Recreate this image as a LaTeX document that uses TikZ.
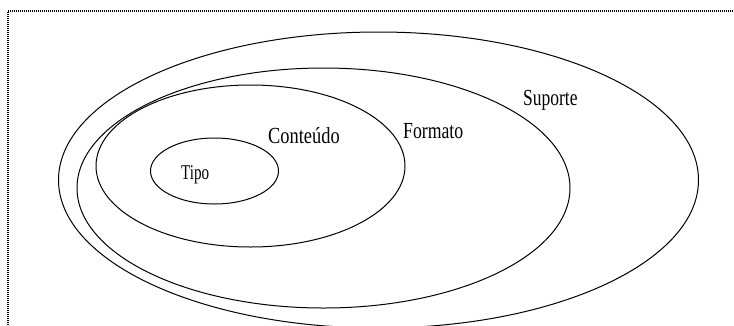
\documentclass[tikz,border=0pt]{standalone}
\usepackage{fontspec}
\setmainfont{Liberation Serif}
\tikzset{
  set/.style={draw=black, line width=1pt},
  lbl/.style={anchor=base west, inner sep=0pt, font=\fontsize{23}{27}\selectfont},
  frame/.style={draw=black, line width=1.2pt, dash pattern=on 1pt off 1pt}
}
\newcommand{\narrow}[2][0.78]{\scalebox{#1}[1]{#2}}
\begin{document}
\begin{tikzpicture}[x=1pt,y=-1pt]
\useasboundingbox (0,0) rectangle (734,325);
\clip (0,0) rectangle (734,325);
\coordinate (fa) at (8,11);
\coordinate (fb) at (734,11);
\coordinate (fc) at (8,325);
\draw[frame] (fc) -- (fa) -- (fb);
% sets
\draw[set] (378.5,180) ellipse [x radius=320pt, y radius=148pt];
\draw[set] (323.5,188) ellipse [x radius=246.5pt, y radius=120pt];
\draw[set] (250.5,166) ellipse [x radius=154.5pt, y radius=81pt];
\draw[set] (214.5,171) ellipse [x radius=64pt, y radius=33pt];
% labels
\node[lbl, font=\fontsize{21}{25}\selectfont] (tipo) at (181,179) {\narrow[0.72]{Tipo}};
\node[lbl] (conteudo) at (268,143) {\narrow[0.8]{Conteúdo}};
\node[lbl] (formato) at (403,138) {\narrow[0.77]{Formato}};
\node[lbl] (suporte) at (523,105) {\narrow[0.76]{Suporte}};
\end{tikzpicture}
\end{document}
